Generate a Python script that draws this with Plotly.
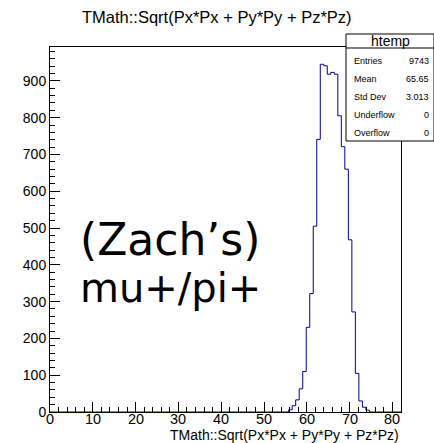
import plotly.graph_objects as go

# ---------------- data ----------------
title_text = "TMath::Sqrt(Px*Px + Py*Py + Pz*Pz)"
x_title = "TMath::Sqrt(Px*Px + Py*Py + Pz*Pz)"
hist_name = "htemp"
x_min, x_max, n_bins = 0.0, 82.0, 100
counts = [0] * 68 + [6, 17, 33, 63, 110, 230, 322, 505, 741,
                     945, 941, 918, 923, 918, 805, 721, 660, 468, 272,
                     105, 30, 13, 5] + [0] * 9
y_max = 992
x_ticks = [0, 10, 20, 30, 40, 50, 60, 70, 80]
y_ticks = [0, 100, 200, 300, 400, 500, 600, 700, 800, 900]
stats_labels = ["Entries", "Mean", "Std Dev", "Underflow", "Overflow"]
stats_values = ["9743", "65.65", "3.013", "0", "0"]
note_lines = ["(Zach\u2019s)", "mu+/pi+"]

# ---------------- geometry ----------------
W, H = 434, 443
L, R, T, B = 50, 401, 47, 412


def px(x):
    return (x - L) / (R - L)


def py(y):
    return (B - y) / (B - T)


bw = (x_max - x_min) / n_bins
edges = [x_min + i * bw for i in range(n_bins + 1)]
ys = list(counts) + [counts[-1]]

fig = go.Figure()
fig.add_trace(go.Scatter(
    x=edges, y=ys, mode="lines", line=dict(shape="hv", color="#000099", width=1),
    hoverinfo="skip", showlegend=False, cliponaxis=False))

axis_font = dict(family="Liberation Sans, Arial", size=14, color="black")
fig.update_xaxes(range=[x_min, x_max], tickvals=x_ticks, ticks="inside", ticklen=10,
                 tickcolor="black", showline=True, linecolor="black", linewidth=1,
                 mirror=True, showgrid=False, zeroline=False, showticklabels=False,
                 minor=dict(dtick=2, ticks="inside", ticklen=5, tickcolor="black"))
fig.update_yaxes(range=[0, y_max], tickvals=y_ticks, ticks="inside", ticklen=10,
                 tickcolor="black", showline=True, linecolor="black", linewidth=1,
                 mirror=True, showgrid=False, zeroline=False, tickfont=axis_font,
                 minor=dict(dtick=20, ticks="inside", ticklen=5, tickcolor="black"))

ann = []
ann.append(dict(text=title_text, x=px(217), y=py(17), xref="paper", yref="paper",
                xanchor="center", yanchor="middle", showarrow=False,
                font=dict(family="Liberation Sans, Arial", size=16.5, color="black")))
# x tick labels placed in data coordinates
for t in x_ticks:
    ann.append(dict(text=str(t), x=t, y=py(418.5), xref="x", yref="paper",
                    xanchor="center", yanchor="middle", showarrow=False,
                    font=dict(family="Liberation Sans, Arial", size=14.5, color="black")))
ann.append(dict(text=x_title, x=px(401), y=py(435), xref="paper", yref="paper",
                xanchor="right", yanchor="middle", showarrow=False,
                font=dict(family="Liberation Sans, Arial", size=14, color="black")))

# stats box
bx0, bx1, by0, by1, bhead = 346, 434, 34, 141, 48
shapes = [
    dict(type="rect", xref="paper", yref="paper", x0=px(bx0), x1=px(bx1), y0=py(by1), y1=py(by0),
         line=dict(color="black", width=1), fillcolor="white", layer="above"),
    dict(type="line", xref="paper", yref="paper", x0=px(bx0), x1=px(bx1), y0=py(bhead), y1=py(bhead),
         line=dict(color="black", width=1), layer="above"),
]
ann.append(dict(text=hist_name, x=px((bx0 + bx1) / 2), y=py(41), xref="paper", yref="paper",
                xanchor="center", yanchor="middle", showarrow=False,
                font=dict(family="Liberation Sans, Arial", size=14, color="black")))
row_y = [61, 79, 97, 115, 133]
for lab, val, yy in zip(stats_labels, stats_values, row_y):
    ann.append(dict(text=lab, x=px(352), y=py(yy), xref="paper", yref="paper",
                    xanchor="left", yanchor="middle", showarrow=False,
                    font=dict(family="Liberation Sans, Arial", size=9, color="black")))
    ann.append(dict(text=val, x=px(431), y=py(yy), xref="paper", yref="paper",
                    xanchor="right", yanchor="middle", showarrow=False,
                    font=dict(family="Liberation Sans, Arial", size=9, color="black")))

# big note text
for line, yy, fs in zip(note_lines, [239, 288], [44, 40]):
    ann.append(dict(text=line, x=px(78), y=py(yy), xref="paper", yref="paper",
                    xanchor="left", yanchor="middle", showarrow=False,
                    font=dict(family="DejaVu Sans", size=fs, color="black")))

fig.update_layout(width=W, height=H, margin=dict(l=L, r=W - R, t=T, b=H - B),
                  paper_bgcolor="white", plot_bgcolor="white",
                  annotations=ann, shapes=shapes, showlegend=False)
fig.write_html("out.html")
